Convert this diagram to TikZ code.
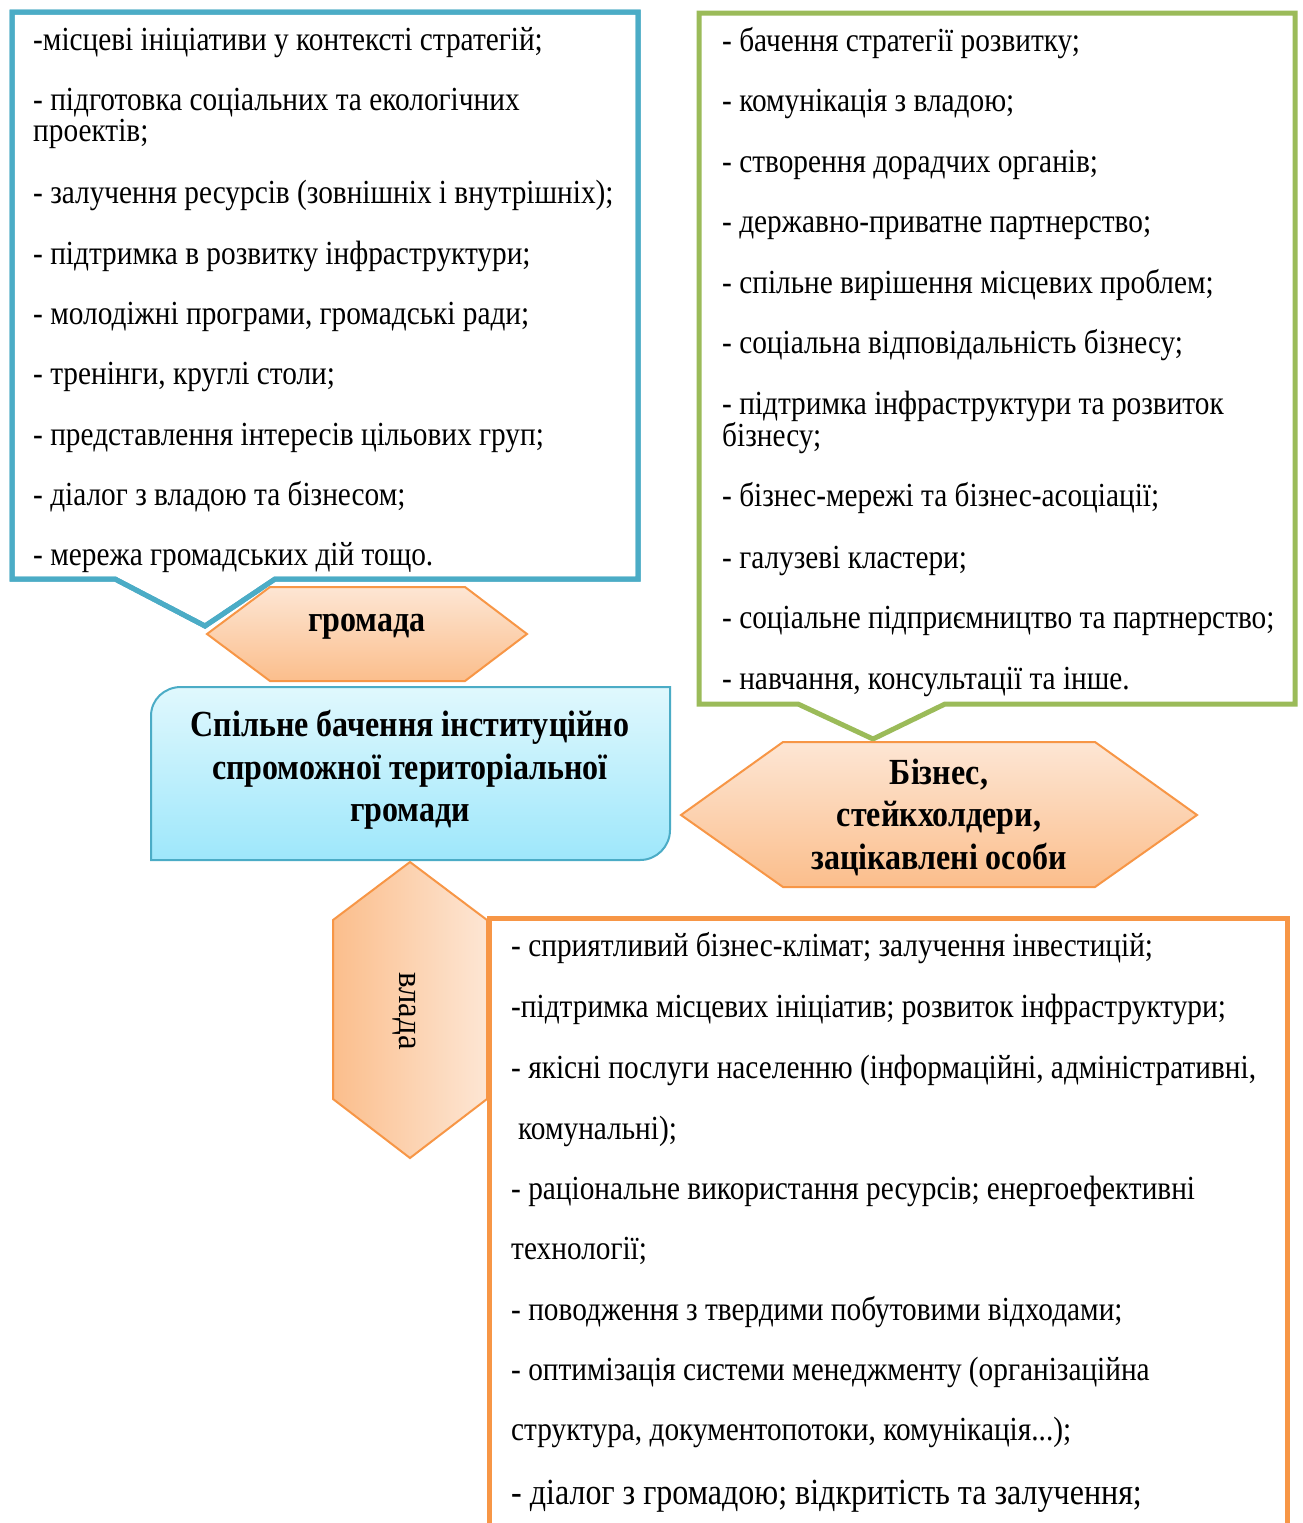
\documentclass[tikz,border=0pt]{standalone}
\usepackage{fontspec}
\setmainfont{Liberation Serif}[FakeStretch=0.87]
\newfontfamily\vfont{Liberation Serif}[FakeStretch=0.94]
\definecolor{cblue}{HTML}{4BACC6}
\definecolor{cgreen}{HTML}{9BBB59}
\definecolor{corange}{HTML}{F79646}
\definecolor{hextop}{RGB}{253,230,212}
\definecolor{hexbot}{RGB}{251,190,140}
\definecolor{cyantop}{RGB}{224,248,253}
\definecolor{cyanbot}{RGB}{158,231,251}
\newcommand{\fsnorm}{\fontsize{33.7}{31}\selectfont}
\newcommand{\fsbold}{\fontsize{36.8}{42.5}\selectfont\bfseries}
\begin{document}
\begin{tikzpicture}[x=1pt,y=-1pt,
  txt/.style={anchor=base west, inner sep=0pt, font=\fsnorm},
  btxt/.style={align=center, inner sep=0pt, font=\fsbold},
  callout/.style={line width=5pt, line join=miter, fill=white},
  hexshape/.style={draw=corange, line width=2pt, top color=hextop, bottom color=hexbot},
]
\useasboundingbox (0,0) rectangle (1302,1523);
\clip (0,0) rectangle (1302,1523);
\fill[white] (0,0) rectangle (1302,1523);

% ---------------- left (blue) callout ----------------
\path[callout, draw=cblue] (12,12) -- (638,12) -- (638,579) -- (275,579) -- (205,626) -- (115,579) -- (12,579) -- cycle;
\node[txt] (l1) at (33,50)  {-місцеві ініціативи у контексті стратегій;};
\node[txt] (l2) at (33,110) {- підготовка соціальних та екологічних};
\node[txt] (l3) at (33,141) {проектів;};
\node[txt] (l4) at (33,203) {- залучення ресурсів (зовнішніх і внутрішніх);};
\node[txt] (l5) at (33,264) {- підтримка в розвитку інфраструктури;};
\node[txt] (l6) at (33,324) {- молодіжні програми, громадські ради;};
\node[txt] (l7) at (33,384) {- тренінги, круглі столи;};
\node[txt] (l8) at (33,445) {- представлення інтересів цільових груп;};
\node[txt] (l9) at (33,505) {- діалог з владою та бізнесом;};
\node[txt] (l10) at (33,565) {- мережа громадських дій тощо.};
\draw[cblue, line width=5pt, line join=miter] (12,12) -- (638,12) -- (638,579) -- (275,579) -- (205,626) -- (115,579) -- (12,579) -- cycle;

% ---------------- right (green) callout ----------------
\path[callout, draw=cgreen] (699,13) -- (1295,13) -- (1295,704) -- (945,704) -- (873,739) -- (798,704) -- (699,704) -- cycle;
\node[txt] (g1) at (722,51)  {- бачення стратегії розвитку;};
\node[txt] (g2) at (722,111) {- комунікація з владою;};
\node[txt] (g3) at (722,172) {- створення дорадчих органів;};
\node[txt] (g4) at (722,232) {- державно-приватне партнерство;};
\node[txt] (g5) at (722,293) {- спільне вирішення місцевих проблем;};
\node[txt] (g6) at (722,353) {- соціальна відповідальність бізнесу;};
\node[txt] (g7) at (722,414) {- підтримка інфраструктури та розвиток};
\node[txt] (g8) at (722,446) {бізнесу;};
\node[txt] (g9) at (722,506) {- бізнес-мережі та бізнес-асоціації;};
\node[txt] (g10) at (722,568) {- галузеві кластери;};
\node[txt] (g11) at (722,628) {- соціальне підприємництво та партнерство;};
\node[txt] (g12) at (722,689) {- навчання, консультації та інше.};

% ---------------- hexagon "громада" ----------------
\path[hexshape] (270,587) -- (465,587) -- (527,634) -- (465,681) -- (270,681) -- (207,634) -- cycle;
\node[btxt] (hromada) at (367,627) {громада};

% ---------------- central rounded box ----------------
\path[draw=cblue, line width=2pt, top color=cyantop, bottom color=cyanbot]
  (151,860) -- (151,716) .. controls (151,699.4) and (164.4,687) .. (181,687)
  -- (670,687) -- (670,830) .. controls (670,846.6) and (656.6,860) .. (640,860) -- cycle;
\node[btxt] (vision) at (410,770) {Спільне бачення інституційно\\спроможної територіальної\\громади};

% ---------------- hexagon "Бізнес" ----------------
\path[hexshape] (783,742) -- (1095,742) -- (1197,815) -- (1095,887) -- (783,887) -- (681,815) -- cycle;
\node[btxt] (business) at (939,817) {Бізнес,\\стейкхолдери,\\зацікавлені особи};

% ---------------- vertical hexagon "влада" ----------------
\path[draw=corange, line width=2pt, left color=hexbot, right color=hextop]
  (410,862) -- (487,920) -- (487,1099) -- (410,1158) -- (333,1099) -- (333,920) -- cycle;
\node[font=\vfont\fontsize{35}{35}\selectfont, rotate=-90, inner sep=0pt] (vlada) at (404,1011) {влада};

% ---------------- orange box ----------------
\path[draw=corange, fill=white, line width=5pt, line join=miter] (489,918) -- (1287,918) -- (1287,1540) -- (489,1540) -- cycle;
\node[txt] (o1) at (511,956)  {- сприятливий бізнес-клімат; залучення інвестицій;};
\node[txt] (o2) at (511,1017) {-підтримка місцевих ініціатив; розвиток інфраструктури;};
\node[txt] (o3) at (511,1078) {- якісні послуги населенню (інформаційні, адміністративні,};
\node[txt] (o4) at (518,1139) {комунальні);};
\node[txt] (o5) at (511,1199) {- раціональне використання ресурсів; енергоефективні};
\node[txt] (o6) at (511,1259) {технології;};
\node[txt] (o7) at (511,1320) {- поводження з твердими побутовими відходами;};
\node[txt] (o8) at (511,1380) {- оптимізація системи менеджменту (організаційна};
\node[txt] (o9) at (511,1440) {структура, документопотоки, комунікація...);};
\node[txt, font=\fontsize{36.8}{38}\selectfont] (o10) at (511,1504) {- діалог з громадою; відкритість та залучення;};
\end{tikzpicture}
\end{document}
